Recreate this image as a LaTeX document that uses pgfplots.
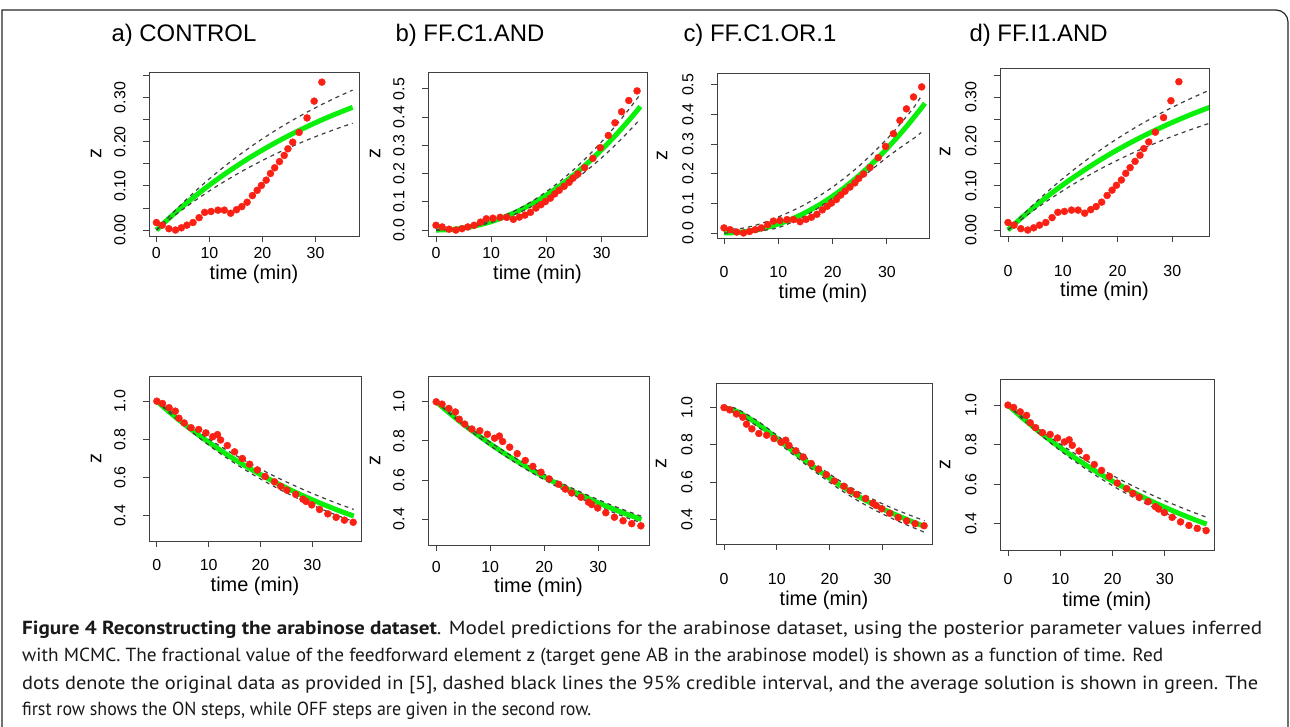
\documentclass[border=0pt]{standalone}
\usepackage{pgfplots}
\usepackage{pgfplotstable}
\usepackage{graphicx}
\usepackage{fontspec}
\pgfplotsset{compat=1.18}
\setmainfont{Liberation Sans}
\newfontfamily\capfont{PT Sans}
\definecolor{rdot}{RGB}{250,32,20}
\definecolor{rgreen}{RGB}{10,240,10}

% ---------------- data ----------------
\pgfplotstableread{
t z
0.0 0.017
1.1 0.011
2.35 0.003
3.6 0.000
4.7 0.005
5.75 0.011
6.9 0.017
8.05 0.028
9.1 0.040
10.3 0.042
11.6 0.045
12.8 0.045
14.0 0.038
15.1 0.046
16.1 0.053
17.1 0.063
18.1 0.078
19.0 0.090
19.8 0.101
20.7 0.113
21.5 0.128
22.3 0.141
23.2 0.155
24.1 0.169
24.8 0.184
25.7 0.199
26.9 0.221
28.4 0.254
29.75 0.292
31.2 0.335
32.4 0.380
33.6 0.419
34.9 0.459
36.4 0.493
}\onData

\pgfplotstableread{
t z
0.0 1.000
1.08 0.988
2.35 0.966
3.56 0.948
4.26 0.911
5.28 0.886
6.6 0.861
8.07 0.852
9.47 0.834
10.8 0.814
11.7 0.825
12.3 0.797
13.6 0.768
15.0 0.735
16.5 0.700
17.9 0.670
19.4 0.640
20.9 0.606
22.7 0.578
23.9 0.554
25.1 0.534
26.8 0.512
28.2 0.487
28.8 0.475
29.9 0.457
31.4 0.433
33.0 0.410
34.6 0.392
36.2 0.377
37.9 0.366
}\offData

% ON, control-type (a, d)
\pgfplotstableread{
t g u l
0 0 0 0
2 0.0225 0.0257 0.0196
4 0.0439 0.0500 0.0382
6 0.0642 0.0732 0.0559
8 0.0835 0.0952 0.0726
10 0.1019 0.1162 0.0887
12 0.1194 0.1361 0.1039
14 0.1360 0.1550 0.1183
16 0.1519 0.1732 0.1322
18 0.1670 0.1904 0.1453
20 0.1813 0.2067 0.1577
22 0.1949 0.2222 0.1696
24 0.2079 0.2370 0.1809
26 0.2202 0.2510 0.1916
28 0.2319 0.2644 0.2018
30 0.2431 0.2771 0.2115
32 0.2537 0.2892 0.2207
34 0.2638 0.3007 0.2295
36 0.2734 0.3117 0.2379
37 0.2780 0.3169 0.2419
}\onCtl

% ON, FF.C1.AND (b)
\pgfplotstableread{
t g u l
0 0 0 0
2 0.0011 0.0012 0.0010
4 0.0046 0.0050 0.0041
6 0.0105 0.0116 0.0095
8 0.0190 0.0209 0.0171
10 0.0300 0.0330 0.0270
12 0.0435 0.0479 0.0392
14 0.0597 0.0657 0.0537
16 0.0785 0.0864 0.0707
18 0.0999 0.1099 0.0899
20 0.1240 0.1364 0.1116
22 0.1508 0.1659 0.1357
24 0.1802 0.1982 0.1622
26 0.2124 0.2336 0.1912
28 0.2472 0.2719 0.2225
30 0.2848 0.3133 0.2563
32 0.3250 0.3575 0.2925
34 0.3681 0.4049 0.3313
36 0.4138 0.4552 0.3724
37 0.4377 0.4815 0.3939
}\onB

% ON, FF.C1.OR.1 (c) bands
\pgfplotstableread{
t u l
0 0.012 0.000
3 0.015 0.001
6 0.027 0.006
10 0.054 0.018
15 0.097 0.058
20 0.155 0.117
25 0.228 0.182
30 0.317 0.255
33 0.380 0.295
35 0.425 0.320
36.3 0.461 0.339
}\onCband

% OFF, control-type (a, d)
\pgfplotstableread{
t g u l
0 1 1 1
2 0.9527 0.9571 0.9491
4 0.9077 0.9161 0.9008
6 0.8648 0.8767 0.8549
8 0.8239 0.8391 0.8114
10 0.7850 0.8031 0.7701
12 0.7478 0.7684 0.7308
14 0.7125 0.7354 0.6935
16 0.6788 0.7038 0.6582
18 0.6467 0.6735 0.6246
20 0.6162 0.6445 0.5928
22 0.5870 0.6167 0.5625
24 0.5593 0.5902 0.5338
26 0.5329 0.5648 0.5066
28 0.5076 0.5403 0.4806
30 0.4837 0.5171 0.4561
32 0.4608 0.4947 0.4328
34 0.4390 0.4733 0.4106
36 0.4183 0.4529 0.3897
38 0.3985 0.4333 0.3697
}\offCtl

% OFF, FF.C1.AND (b)
\pgfplotstableread{
t g u l
0 1 1 1
2 0.9527 0.9548 0.9504
4 0.9077 0.9117 0.9033
6 0.8648 0.8705 0.8586
8 0.8239 0.8311 0.8160
10 0.7850 0.7936 0.7756
12 0.7478 0.7577 0.7370
14 0.7125 0.7235 0.7005
16 0.6788 0.6907 0.6658
18 0.6467 0.6595 0.6327
20 0.6162 0.6298 0.6014
22 0.5870 0.6012 0.5712
24 0.5593 0.5741 0.5432
26 0.5329 0.5481 0.5163
28 0.5076 0.5232 0.4905
30 0.4837 0.4997 0.4663
32 0.4608 0.4770 0.4431
34 0.4390 0.4554 0.4211
36 0.4183 0.4349 0.4002
38 0.3985 0.4149 0.3812
}\offB

% OFF, FF.C1.OR.1 (c)
\pgfplotstableread{
t g u l
0 1.000 1.004 0.992
2 0.985 0.998 0.972
4 0.955 0.969 0.941
6 0.920 0.935 0.905
8 0.879 0.895 0.863
10 0.835 0.852 0.818
12 0.790 0.808 0.772
14 0.746 0.765 0.727
16 0.703 0.723 0.683
18 0.661 0.682 0.640
20 0.621 0.643 0.599
22 0.583 0.606 0.560
24 0.548 0.572 0.524
26 0.515 0.540 0.490
28 0.485 0.511 0.459
30 0.457 0.484 0.430
32 0.431 0.459 0.403
34 0.407 0.436 0.378
36 0.384 0.414 0.354
38 0.362 0.393 0.331
}\offC

\pgfplotsset{
  rbase/.style={
    scale only axis, anchor=north west,
    axis line style={black!75, line width=0.9bp},
    every tick/.style={black!75, line width=0.9bp},
    tick pos=left, tick align=outside, major tick length=6bp,
    xtick={0,10,20,30}, xticklabels={0,10,20,30},
    ticklabel style={font=\fontsize{16}{18}\selectfont},
    xticklabel style={anchor=center},
    yticklabel style={rotate=90, anchor=center},
    xlabel={time (min)}, ylabel={z},
    label style={font=\fontsize{20}{23}\selectfont},
    clip=true,
  },
  labpos/.style n args={4}{
    xticklabel shift=#1, yticklabel shift=#3,
    xlabel style={at={([yshift=-#2]axis description cs:0.5,0)}, anchor=center},
    ylabel style={at={([xshift=-#4]axis description cs:0,0.5)}, anchor=center},
  },
  ontick/.style={ytick={0,0.05,0.1,0.15,0.2,0.25,0.3,0.35},
    yticklabels={0.00,,0.10,,0.20,,0.30,}},
  onhalf/.style={ytick={0,0.1,0.2,0.3,0.4,0.5},
    yticklabels={0.0,0.1,0.2,0.3,0.4,0.5}},
  offtick/.style={ytick={0.4,0.6,0.8,1.0}, yticklabels={0.4,0.6,0.8,1.0},
    ymin=0.268, ymax=1.132, xmin=-1.52, xmax=39.4},
  gline/.style={rgreen, line width=5bp, smooth},
  dline/.style={black!75, line width=1.2bp, dash pattern=on 4bp off 4bp, smooth},
  rpts/.style={only marks, mark=*, mark size=3.5bp, color=rdot, mark options={draw=rdot, fill=rdot}},
}

\begin{document}
\begin{tikzpicture}
% frame
\draw[line width=1.2bp, black!85] (2bp,-5bp) -- (2bp,717bp) -- (1276bp,717bp)
   arc[start angle=90, end angle=0, radius=12bp] -- (1288bp,-5bp);

% titles
\node[anchor=west, font=\fontsize{24}{28}\selectfont] at (108bp,692bp) {a) CONTROL};
\node[anchor=west, font=\fontsize{24}{28}\selectfont] at (392bp,692bp) {b) FF.C1.AND};
\node[anchor=west, font=\fontsize{24}{28}\selectfont] at (680bp,692bp) {c) FF.C1.OR.1};
\node[anchor=west, font=\fontsize{24}{28}\selectfont] at (966bp,692bp) {d) FF.I1.AND};

% ---------- top row ----------
\begin{axis}[rbase, at={(149bp,655bp)}, width=210bp, height=164bp,
  xmin=-1.4, xmax=38.2, ymin=-0.0136, ymax=0.358, ontick,
  labpos={11bp}{38bp}{23bp}{53bp}]
\addplot[gline] table[x=t,y=g] {\onCtl};
\addplot[dline] table[x=t,y=u] {\onCtl};
\addplot[dline] table[x=t,y=l] {\onCtl};
\addplot[rpts] table[x=t,y=z] {\onData};
\end{axis}

\begin{axis}[rbase, at={(428bp,655bp)}, width=219bp, height=164bp,
  xmin=-1.45, xmax=38.2, ymin=-0.021, ymax=0.56, onhalf,
  labpos={11bp}{38bp}{23bp}{53bp}]
\addplot[gline] table[x=t,y=g] {\onB};
\addplot[dline] table[x=t,y=u] {\onB};
\addplot[dline] table[x=t,y=l] {\onB};
\addplot[rpts] table[x=t,y=z] {\onData};
\end{axis}

\begin{axis}[rbase, at={(717bp,654bp)}, width=212bp, height=165bp,
  xmin=-1.29, xmax=37.75, ymin=-0.017, ymax=0.54, onhalf,
  labpos={28bp}{55bp}{23bp}{55bp}]
\addplot[gline] table[x=t,y=g] {\onB};
\addplot[dline] table[x=t,y=u] {\onCband};
\addplot[dline] table[x=t,y=l] {\onCband};
\addplot[rpts] table[x=t,y=z] {\onData};
\end{axis}

\begin{axis}[rbase, at={(1000bp,659bp)}, width=209bp, height=168bp,
  xmin=-1.46, xmax=36.7, ymin=-0.0135, ymax=0.366, ontick,
  labpos={29bp}{55bp}{23bp}{55bp}]
\addplot[gline] table[x=t,y=g] {\onCtl};
\addplot[dline] table[x=t,y=u] {\onCtl};
\addplot[dline] table[x=t,y=l] {\onCtl};
\addplot[rpts] table[x=t,y=z] {\onData};
\end{axis}

% ---------- bottom row ----------
\begin{axis}[rbase, at={(149bp,351bp)}, width=212bp, height=165bp, offtick,
  labpos={18bp}{45bp}{23bp}{53bp}]
\addplot[gline] table[x=t,y=g] {\offCtl};
\addplot[dline] table[x=t,y=u] {\offCtl};
\addplot[dline] table[x=t,y=l] {\offCtl};
\addplot[rpts] table[x=t,y=z] {\offData};
\end{axis}

\begin{axis}[rbase, at={(428bp,351bp)}, width=221bp, height=169bp, offtick,
  labpos={16bp}{42bp}{23bp}{53bp}]
\addplot[gline] table[x=t,y=g] {\offB};
\addplot[dline] table[x=t,y=u] {\offB};
\addplot[dline] table[x=t,y=l] {\offB};
\addplot[rpts] table[x=t,y=z] {\offData};
\end{axis}

\begin{axis}[rbase, at={(716bp,344bp)}, width=216bp, height=161bp, offtick,
  labpos={29bp}{56bp}{23bp}{55bp}]
\addplot[gline] table[x=t,y=g] {\offC};
\addplot[dline] table[x=t,y=u] {\offC};
\addplot[dline] table[x=t,y=l] {\offC};
\addplot[rpts] table[x=t,y=z] {\offData};
\end{axis}

\begin{axis}[rbase, at={(1000bp,348bp)}, width=214bp, height=171bp, offtick,
  labpos={23bp}{51bp}{23bp}{55bp}]
\addplot[gline] table[x=t,y=g] {\offCtl};
\addplot[dline] table[x=t,y=u] {\offCtl};
\addplot[dline] table[x=t,y=l] {\offCtl};
\addplot[rpts] table[x=t,y=z] {\offData};
\end{axis}

% ---------- caption ----------
\begin{scope}[every node/.style={anchor=base west, inner sep=0pt, font=\capfont\fontsize{19}{23}\selectfont, text=black!90}]
\node at (22bp,92bp) {\resizebox{1240bp}{\height}{\textbf{Figure 4 Reconstructing the arabinose dataset}. Model predictions for the arabinose dataset, using the posterior parameter values inferred}};
\node at (22bp,65bp) {\resizebox{1141bp}{\height}{with MCMC. The fractional value of the feedforward element z (target gene AB in the arabinose model) is shown as a function of time. Red}};
\node at (22bp,38bp) {\resizebox{1236bp}{\height}{dots denote the original data as provided in [5], dashed black lines the 95\% credible interval, and the average solution is shown in green. The}};
\node at (22bp,11bp) {\resizebox{569bp}{\height}{first row shows the ON steps, while OFF steps are given in the second row.}};
\end{scope}

\pgfresetboundingbox
\path[use as bounding box] (0,0) rectangle (1290bp,727bp);
\end{tikzpicture}
\end{document}
